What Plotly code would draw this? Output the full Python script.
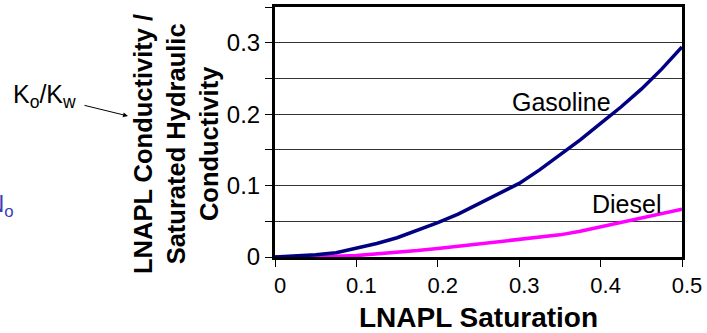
import plotly.graph_objects as go

# LNAPL saturation (x) and relative conductivity Ko/Kw (y)
saturation = [0, 0.025, 0.05, 0.075, 0.1, 0.125, 0.15, 0.175, 0.2, 0.225, 0.25,
              0.275, 0.3, 0.325, 0.35, 0.375, 0.4, 0.425, 0.45, 0.475, 0.5]
gasoline = [0, 0.001, 0.003, 0.006, 0.012, 0.019, 0.027, 0.037, 0.048, 0.060, 0.074,
            0.088, 0.103, 0.122, 0.143, 0.164, 0.187, 0.210, 0.235, 0.263, 0.294]
diesel = [0, 0.0, 0.0005, 0.001, 0.002, 0.004, 0.006, 0.009, 0.012, 0.015, 0.018,
          0.021, 0.025, 0.028, 0.031, 0.036, 0.042, 0.048, 0.054, 0.060, 0.067]

x_ticks = [0, 0.1, 0.2, 0.3, 0.4, 0.5]
x_labels = ["0", "0.1", "0.2", "0.3", "0.4", "0.5"]
y_ticks = [0, 0.05, 0.1, 0.15, 0.2, 0.25, 0.3, 0.35]
y_labels = ["0", "", "0.1", "", "0.2", "", "0.3", ""]

FONT = "Liberation Sans, Arial, sans-serif"


# pixel position -> paper coords (plot area is 275..682 x, 7..257 y)
def px(x):
    return (x - 275) / 407


def py(y):
    return (257 - y) / 250


fig = go.Figure()
fig.add_trace(go.Scatter(x=saturation, y=diesel, mode="lines",
                         line=dict(color="#FF00FF", width=3.5), name="Diesel"))
fig.add_trace(go.Scatter(x=saturation, y=gasoline, mode="lines",
                         line=dict(color="#000080", width=3.5), name="Gasoline"))

# curve labels
fig.add_annotation(x=0.3516, y=0.2176, text="Gasoline", showarrow=False,
                   font=dict(family=FONT, size=25, color="black"))
fig.add_annotation(x=0.4315, y=0.0744, text="Diesel", showarrow=False,
                   font=dict(family=FONT, size=25, color="black"))

# y title as a rotated annotation
fig.add_annotation(xref="paper", yref="paper", x=px(176), y=py(144),
                   xanchor="center", yanchor="middle",
                   text="<b>LNAPL Conductivity /<br>Saturated Hydraulic<br>Conductivity</b>",
                   textangle=-90, showarrow=False,
                   font=dict(family=FONT, size=25.5, color="black"))

# Ko/Kw label with arrow
fig.add_annotation(xref="paper", yref="paper", x=px(44), y=py(96),
                   xanchor="center", yanchor="middle",
                   text="K<sub>o</sub>/K<sub>w</sub>", showarrow=False,
                   font=dict(family=FONT, size=25, color="black"))
fig.add_annotation(xref="paper", yref="paper", x=px(128), y=py(116),
                   ax=-45, ay=-11, text="", showarrow=True,
                   arrowhead=2, arrowsize=1, arrowwidth=1, arrowcolor="black")

# cut-off blue label at far left
fig.add_annotation(xref="paper", yref="paper", x=px(16), y=py(205),
                   xanchor="right", yanchor="middle", text="N<sub>o</sub>", showarrow=False,
                   font=dict(family=FONT, size=24, color="#3c3cb4"))

fig.update_layout(
    width=707, height=333,
    margin=dict(l=275, r=25, t=7, b=76),
    paper_bgcolor="white", plot_bgcolor="white",
    showlegend=False,
    font=dict(family=FONT, color="black"),
)
fig.update_xaxes(
    range=[0, 0.5], tickvals=x_ticks, ticktext=x_labels,
    ticks="outside", ticklen=7, tickwidth=1, tickcolor="black",
    tickfont=dict(size=22), ticklabelshift=5,
    showline=True, linewidth=3, linecolor="black", mirror=True,
    showgrid=False, zeroline=False, automargin=False,
    title=dict(text="<b>LNAPL Saturation</b>", font=dict(size=28), standoff=12),
)
fig.update_yaxes(
    range=[0, 0.35], tickvals=y_ticks, ticktext=y_labels,
    ticks="outside", ticklen=7, tickwidth=1, tickcolor="black",
    tickfont=dict(size=24), automargin=False,
    showline=True, linewidth=3, linecolor="black", mirror=True,
    showgrid=True, gridcolor="#333333", gridwidth=1, zeroline=False,
)

# drop the default page margin so the figure sits at the window's corner
fig.write_html("out.html", config={"displayModeBar": False},
               post_script="document.body.style.margin='0';")
